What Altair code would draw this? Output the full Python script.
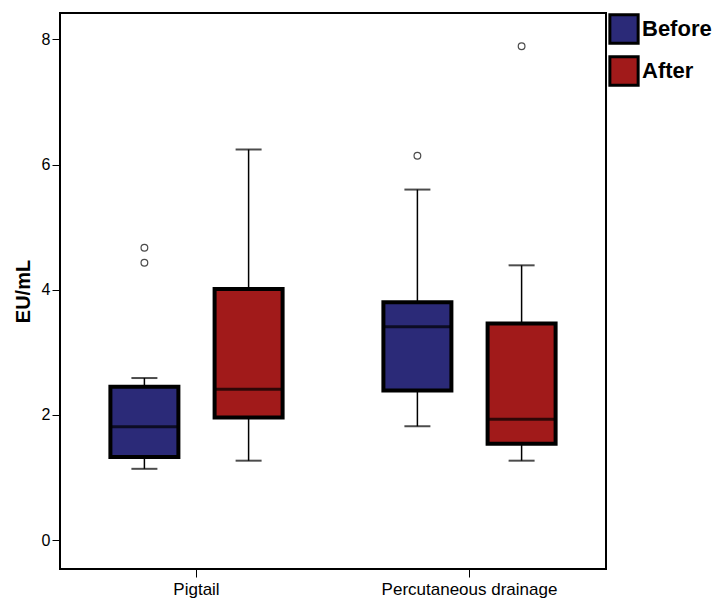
import altair as alt
import pandas as pd

groups = ["Pigtail", "Pigtail", "Percutaneous drainage", "Percutaneous drainage"]
phases = ["Before", "After", "Before", "After"]
lows = [1.14, 1.27, 1.82, 1.27]
q1s = [1.33, 1.96, 2.39, 1.54]
medians = [1.81, 2.41, 3.41, 1.93]
q3s = [2.45, 4.01, 3.80, 3.46]
highs = [2.59, 6.24, 5.60, 4.39]

out_groups = ["Pigtail", "Pigtail", "Percutaneous drainage", "Percutaneous drainage"]
out_phases = ["Before", "Before", "Before", "After"]
out_values = [4.67, 4.43, 6.14, 7.89]

box = pd.DataFrame({"group": groups, "phase": phases, "low": lows, "q1": q1s,
                    "median": medians, "q3": q3s, "high": highs})
outl = pd.DataFrame({"group": out_groups, "phase": out_phases, "value": out_values})

order = ["Pigtail", "Percutaneous drainage"]
x = alt.X("group:N", sort=order, title=None,
          scale=alt.Scale(paddingInner=0, paddingOuter=0),
          axis=alt.Axis(labelAngle=0, labelFontSize=17, labelColor="black",
                        labelFont="Arial", labelFontWeight=500, tickColor="black",
                        tickSize=8, domain=False, labelPadding=4))
xo = alt.XOffset("phase:N", sort=["Before", "After"],
                 scale=alt.Scale(paddingInner=0, paddingOuter=0.31))
yscale = alt.Scale(domain=[-0.46, 8.42], nice=False, zero=False)
yaxis = alt.Axis(values=[0, 2, 4, 6, 8], format="d", grid=False, labelFontSize=16,
                 labelColor="black", tickColor="black", tickSize=8, domain=False,
                 titleFontSize=20, titleFontWeight="bold", titleColor="black",
                 labelFont="Arial", titleFont="Arial", titlePadding=8)
color = alt.Color("phase:N", sort=["Before", "After"],
                  scale=alt.Scale(domain=["Before", "After"], range=["#2b2a78", "#a11a1a"]),
                  legend=alt.Legend(title=None, orient="right", symbolType="square",
                                    symbolSize=800, symbolStrokeColor="black",
                                    symbolStrokeWidth=3, labelFontSize=22,
                                    labelFontWeight="bold", labelFont="Arial",
                                    labelColor="black", offset=2, rowPadding=0,
                                    labelOffset=2, padding=0))

base = alt.Chart(box).encode(x=x, xOffset=xo)

whisker = base.mark_rule(color="black", strokeWidth=1.5).encode(
    y=alt.Y("low:Q", scale=yscale, axis=yaxis, title="EU/mL"), y2="high:Q")
caps_lo = base.mark_tick(color="black", size=26, thickness=2).encode(y="low:Q")
caps_hi = base.mark_tick(color="black", size=26, thickness=2).encode(y="high:Q")
boxes = base.mark_bar(size=68, stroke="black", strokeWidth=4).encode(
    y="q1:Q", y2="q3:Q", color=color)
meds = base.mark_tick(color="black", size=66, thickness=3).encode(y="median:Q")
points = alt.Chart(outl).mark_point(shape="circle", filled=False, color="black",
                                    size=45, strokeWidth=1.2).encode(
    x=x, xOffset=xo, y="value:Q")

chart = alt.layer(whisker, caps_lo, caps_hi, boxes, meds, points).properties(
    width=546, height=556, background="white"
).configure_view(stroke="black", strokeWidth=2)

chart.save("out.html", embed_options={"renderer": "svg", "actions": False})
